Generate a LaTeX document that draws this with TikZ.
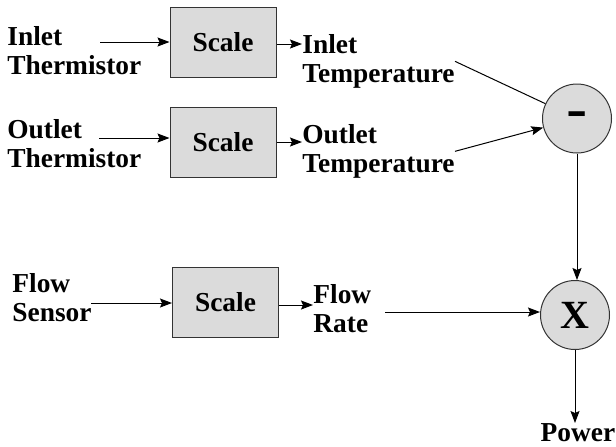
\documentclass[tikz,border=0pt]{standalone}
\usepackage{fontspec}
\setmainfont{Liberation Serif}
\setsansfont{Liberation Sans}
\usetikzlibrary{arrows.meta}

\definecolor{boxfill}{gray}{0.86}
\definecolor{boxline}{gray}{0.2}

\begin{document}
\begin{tikzpicture}[x=0.5pt, y=-0.5pt,
  every node/.style={font=\fontsize{13.7}{14.5}\selectfont\bfseries, inner sep=0pt},
  sig/.style={align=left, anchor=north west},
  block/.style={draw=boxline, line width=0.5pt, fill=boxfill, minimum width=53pt, minimum height=35pt},
  op/.style={circle, draw=boxline, line width=0.5pt, fill=boxfill, minimum size=34.5pt},
  wire/.style={-{Stealth[length=6pt,width=4.5pt,inset=1pt]}, line width=0.5pt}]

  \useasboundingbox (0,0) rectangle (616,446);

  % Sensor inputs
  \node[sig] (inlet) at (7,26) {Inlet\\Thermistor};
  \node[sig] (outlet) at (7,119) {Outlet\\Thermistor};
  \node[sig] (flow) at (12,273) {Flow\\Sensor};
  \coordinate (in1) at (100,42);
  \coordinate (in2) at (99,138);
  \coordinate (in3) at (91,303);

  % Scaling blocks
  \node[block] (scale1) at (223,42) {Scale};
  \node[block] (scale2) at (223,142) {Scale};
  \node[block] (scale3) at (225.5,302.5) {Scale};
  \draw[wire] (in1) -- (in1 -| scale1.west);
  \draw[wire] (in2) -- (in2 -| scale2.west);
  \draw[wire] (in3) -- (in3 -| scale3.west);

  % Scaled signals
  \node[sig] (tin) at (302,34) {Inlet\\Temperature};
  \node[sig] (tout) at (302,124) {Outlet\\Temperature};
  \node[sig] (frate) at (313,284) {Flow\\Rate};
  \draw[wire] ([yshift=-1pt]scale1.east) -- ([yshift=-1pt]scale1.east -| tin.west);
  \draw[wire] (scale2.east) -- (scale2.east -| tout.west);
  \draw[wire] ([yshift=-1.25pt]scale3.east) -- ([yshift=-1.25pt]scale3.east -| frate.west);

  % Difference and product
  \node[op] (minus) at (577,118.5) {\sffamily\fontsize{20}{20}\selectfont\scalebox{1.6}[1]{-}};
  \node[op] (times) at (575,315) {\fontsize{20}{20}\selectfont X};
  \draw[line width=0.5pt] (tin.east) -- (minus);
  \draw[wire] (tout.east) -- (minus);
  \coordinate (fr) at (385,312);
  \draw[wire] (fr) -- (fr -| times.west);
  \draw[wire] (minus.south) -- (minus.south |- times.north);

  % Result
  \node[anchor=north] (power) at (578,423) {Power};
  \draw[wire] (times.south) -- (times.south |- power.north);

\end{tikzpicture}
\end{document}
